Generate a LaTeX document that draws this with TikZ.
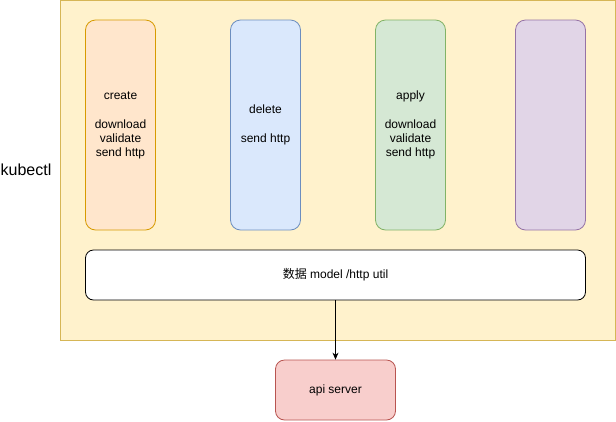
\documentclass[tikz,border=0pt]{standalone}
\usepackage{fontspec}
\setmainfont{Liberation Sans}
\newfontfamily\cjk{Noto Sans CJK SC}
\usetikzlibrary{arrows.meta}
\definecolor{ylwF}{HTML}{FFF2CC}\definecolor{ylwD}{HTML}{D6B656}
\definecolor{orgF}{HTML}{FFE6CC}\definecolor{orgD}{HTML}{D79B00}
\definecolor{bluF}{HTML}{DAE8FC}\definecolor{bluD}{HTML}{6C8EBF}
\definecolor{grnF}{HTML}{D5E8D4}\definecolor{grnD}{HTML}{82B366}
\definecolor{purF}{HTML}{E1D5E7}\definecolor{purD}{HTML}{9673A6}
\definecolor{redF}{HTML}{F8CECC}\definecolor{redD}{HTML}{B85450}
\tikzset{
  cmdbox/.style={draw, line width=0.8pt, rounded corners=10pt, minimum width=70pt, minimum height=210pt, inner sep=0pt, align=center, font=\fontsize{12}{14}\selectfont},
  plainbox/.style={draw, line width=0.8pt, inner sep=0pt, align=center, font=\fontsize{12}{14}\selectfont},
}
\begin{document}
\begin{tikzpicture}[x=1pt,y=-1pt]
\useasboundingbox (0,0) rectangle (616,421);
\node[draw=ylwD, fill=ylwF, line width=0.8pt, minimum width=555pt, minimum height=340pt, inner sep=0pt] (outer) at (337.8,170) {};
\node[font=\fontsize{16}{18}\selectfont] (kubectl) at (26,170) {kubectl};
\node[cmdbox, draw=orgD, fill=orgF] (create) at (120.5,125) {\raisebox{-2pt}{\parbox{70pt}{\centering create\\[15pt]download\\validate\\send http}}};
\node[cmdbox, draw=bluD, fill=bluF] (delete) at (265.5,125) {\raisebox{-2pt}{\parbox{70pt}{\centering delete\\[15pt]send http}}};
\node[cmdbox, draw=grnD, fill=grnF] (apply) at (410.5,125) {\raisebox{-2pt}{\parbox{70pt}{\centering apply\\[15pt]download\\validate\\send http}}};
\node[cmdbox, draw=purD, fill=purF] (other) at (550.5,125) {};
\node[plainbox, draw=black, fill=white, rounded corners=8pt, minimum width=500pt, minimum height=50pt] (util) at (335.5,275) {{\cjk 数据} model /http util};
\node[plainbox, draw=redD, fill=redF, rounded corners=9pt, minimum width=120pt, minimum height=60pt] (api) at (335.5,390) {api server};
\draw[line width=0.8pt, -{Stealth[length=7pt,width=6pt]}] (util.south) -- (api.north);
\end{tikzpicture}
\end{document}
